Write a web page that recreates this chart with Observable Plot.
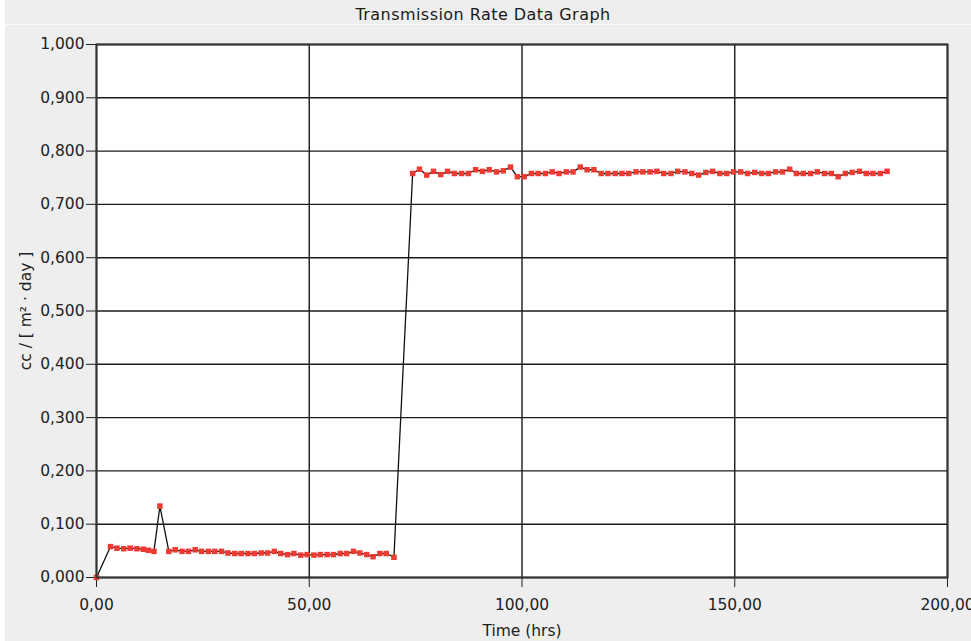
<!DOCTYPE html>
<html>
<head>
<meta charset="utf-8">
<script src="https://cdn.jsdelivr.net/npm/d3@7"></script>
<script src="https://cdn.jsdelivr.net/npm/@observablehq/plot@0.6"></script>
<style>
  html, body { margin: 0; padding: 0; background: #ffffff; }
  #wrap { position: absolute; left: 5px; top: 0; width: 966px; height: 641px; background: #eeeeee; overflow: hidden; }
  #title { height: 25px; line-height: 29px; text-align: center; font-family: "DejaVu Sans", sans-serif; font-size: 16px; letter-spacing: 0.45px; color: #1a1a1a; border-bottom: 1px solid #fafafa; box-sizing: border-box; padding-right: 10px; }
  #chart { position: absolute; left: -5px; top: 25px; }
</style>
</head>
<body>
<div id="wrap">
  <div id="title">Transmission Rate Data Graph</div>
  <div id="chart"></div>
</div>
<script>
// Sampling times (hrs)
const hours = [
  0, 3.3, 4.8, 6.4, 7.9, 9.5, 11.0, 12.2, 13.5, 14.9, 17.0, 18.5, 20.1, 21.6, 23.2, 24.7,
  26.3, 27.8, 29.4, 30.9, 32.5, 34.0, 35.6, 37.1, 38.7, 40.2, 41.8, 43.3, 44.9, 46.4,
  48.0, 49.5, 51.1, 52.6, 54.2, 55.7, 57.3, 58.8, 60.4, 61.9, 63.5, 65.0, 66.6, 68.1, 69.9,
  74.3, 75.9, 77.6, 79.2, 80.9, 82.5, 84.1, 85.8, 87.4, 89.1, 90.7, 92.3, 94.0, 95.6,
  97.3, 98.9, 100.5, 102.2, 103.8, 105.5, 107.1, 108.7, 110.4, 112.0, 113.7, 115.3,
  116.9, 118.6, 120.2, 121.9, 123.5, 125.1, 126.8, 128.4, 130.1, 131.7, 133.3, 135.0,
  136.6, 138.3, 139.9, 141.5, 143.2, 144.8, 146.5, 148.1, 149.7, 151.4, 153.0, 154.7,
  156.3, 157.9, 159.6, 161.2, 162.9, 164.5, 166.1, 167.8, 169.4, 171.1, 172.7, 174.3,
  176.0, 177.6, 179.3, 180.9, 182.5, 184.2, 185.8
];
// Transmission rate, cc / [m² · day]
const rates = [
  0.000, 0.058, 0.055, 0.054, 0.055, 0.054, 0.053, 0.051, 0.049, 0.134, 0.049, 0.052, 0.049, 0.049, 0.052, 0.049,
  0.049, 0.049, 0.049, 0.046, 0.045, 0.045, 0.045, 0.045, 0.046, 0.046, 0.049, 0.045, 0.043, 0.045,
  0.042, 0.043, 0.042, 0.043, 0.043, 0.043, 0.045, 0.045, 0.049, 0.046, 0.043, 0.039, 0.045, 0.045, 0.038,
  0.758, 0.766, 0.755, 0.762, 0.756, 0.762, 0.758, 0.758, 0.758, 0.765, 0.762, 0.765, 0.761, 0.763,
  0.770, 0.752, 0.752, 0.758, 0.758, 0.758, 0.761, 0.758, 0.761, 0.761, 0.770, 0.765,
  0.765, 0.758, 0.758, 0.758, 0.758, 0.758, 0.761, 0.761, 0.761, 0.762, 0.758, 0.758,
  0.762, 0.761, 0.758, 0.755, 0.760, 0.762, 0.758, 0.758, 0.761, 0.761, 0.758, 0.760,
  0.758, 0.758, 0.761, 0.761, 0.766, 0.758, 0.758, 0.758, 0.761, 0.758, 0.758, 0.752,
  0.758, 0.760, 0.762, 0.758, 0.758, 0.758, 0.762
];
const xTicks = [0, 50, 100, 150, 200];
const yTicks = [0, 0.1, 0.2, 0.3, 0.4, 0.5, 0.6, 0.7, 0.8, 0.9, 1.0];
const xLabel = "Time (hrs)";
const yLabel = "cc / [ m² · day ]";

const data = hours.map((t, i) => ({t, v: rates[i]}));
const fmtX = d => d.toFixed(2).replace(".", ",");
const fmtY = d => d.toFixed(3).replace(".", ",");

const chart = Plot.plot({
  width: 971,
  height: 616,
  marginTop: 19,
  marginBottom: 64,
  marginLeft: 96,
  marginRight: 24,
  style: {background: "transparent", fontFamily: "DejaVu Sans, sans-serif", fontSize: "15.5px", color: "#222", overflow: "visible"},
  x: {domain: [0, 200]},
  y: {domain: [0, 1]},
  marks: [
    Plot.frame({fill: "white", stroke: "none"}),
    Plot.gridX(xTicks, {stroke: "#1a1a1a", strokeOpacity: 1, strokeWidth: 1.4}),
    Plot.gridY(yTicks, {stroke: "#1a1a1a", strokeOpacity: 1, strokeWidth: 1.4}),
    Plot.axisX(xTicks, {tickFormat: fmtX, tickSize: 10, tickPadding: 11, stroke: "#222", label: xLabel, labelAnchor: "center", labelOffset: 58, labelArrow: "none", fontSize: 15.5}),
    Plot.axisY(yTicks, {tickFormat: fmtY, tickSize: 10, tickPadding: 2, stroke: "#222", label: yLabel, labelAnchor: "center", labelOffset: 77, labelArrow: "none", fontSize: 15.5}),
    Plot.line(data, {x: "t", y: "v", stroke: "#111", strokeWidth: 1.3}),
    Plot.dot(data, {x: "t", y: "v", symbol: "square", r: 3.1, fill: "#ee3b32", stroke: "none"}),
    Plot.frame({stroke: "#333", strokeWidth: 2})
  ]
});
document.getElementById("chart").appendChild(chart);
</script>
</body>
</html>
